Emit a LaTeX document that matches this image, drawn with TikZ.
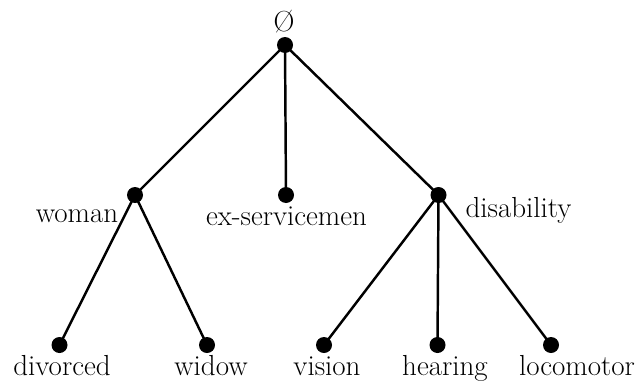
\documentclass[tikz,border=0pt]{standalone}
\usepackage{amsmath,amssymb}
\usepackage{tikz}

\tikzset{
  dot/.style={circle, fill=black, inner sep=0pt, minimum size=0.32cm},
  lbl/.style={font=\fontsize{16.5}{19}\selectfont, inner sep=0pt, anchor=base}
}

\begin{document}
\begin{tikzpicture}[line width=1.4pt]
    \useasboundingbox (0,0) rectangle (12.82,-7.62);

    \node[dot] (root) at (5.7, -0.9) {};

    \node[dot] (woman) at (2.7, -3.9) {};
    \node[dot] (exs) at (5.72, -3.9) {};
    \node[dot] (dis) at (8.77, -3.9) {};

    \node[dot] (div) at (1.19, -6.9) {};
    \node[dot] (wid) at (4.14, -6.9) {};
    \node[dot] (vis) at (6.48, -6.9) {};
    \node[dot] (hear) at (8.75, -6.9) {};
    \node[dot] (loco) at (11.02, -6.9) {};

    % labels
    \node[lbl] (rootl) at (5.68, -0.62) {\O};
    \node[lbl] (womanl) at (1.54, -4.44) {woman};
    \node[lbl] (exsl) at (5.73, -4.5) {ex-servicemen};
    \node[lbl] (disl) at (10.37, -4.34) {disability};
    \node[lbl] (divl) at (1.24, -7.5) {divorced};
    \node[lbl] (widl) at (4.22, -7.5) {widow};
    \node[lbl] (visl) at (6.54, -7.5) {vision};
    \node[lbl] (hearl) at (8.9, -7.5) {hearing};
    \node[lbl] (locol) at (11.54, -7.5) {locomotor};

    \draw (root.center) -- (woman.center);
    \draw (root.center) -- (exs.center);
    \draw (root.center) -- (dis.center);

    \draw (woman.center) -- (div.center);
    \draw (woman.center) -- (wid.center);

    \draw (dis.center) -- (vis.center);
    \draw (dis.center) -- (hear.center);
    \draw (dis.center) -- (loco.center);
  \end{tikzpicture}
\end{document}
